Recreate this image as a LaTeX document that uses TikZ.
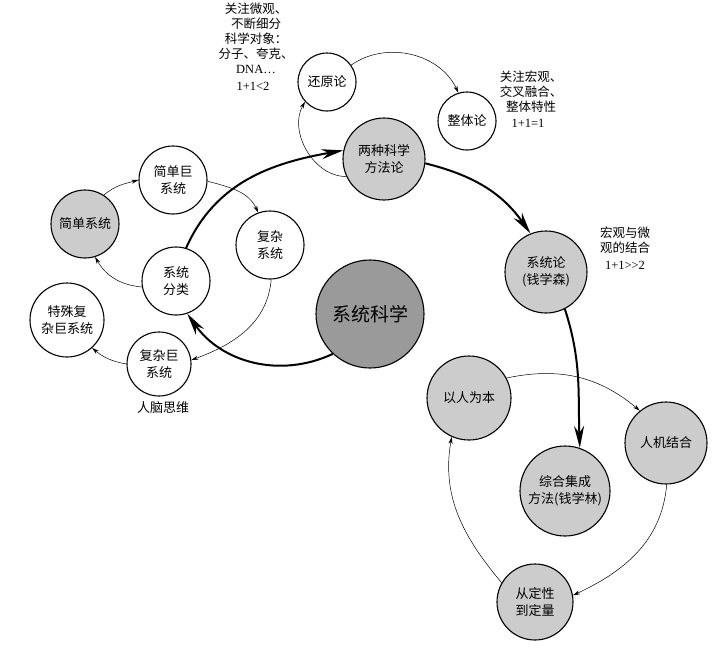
\documentclass[tikz,border=0pt]{standalone}
\usepackage{fontspec}
\setmainfont{Liberation Serif}
\newfontfamily\cjk{Noto Sans CJK SC}
\usetikzlibrary{arrows.meta}
\definecolor{slight}{HTML}{CCCCCC}
\definecolor{sdark}{HTML}{9A9A9A}
\tikzset{
  wcirc/.style={circle, draw=black, line width=1.1pt, fill=white, align=center,
                font=\cjk\fontsize{13}{16.5}\selectfont, inner sep=0pt},
  gcirc/.style={wcirc, fill=slight},
  bigarr/.style={line width=2pt, -{Stealth[length=22pt,width=10pt]}},
  smarr/.style={line width=0.5pt, -{Stealth[length=7pt,width=4pt]}},
  note/.style={align=center, font=\cjk\fontsize{12.5}{15}\selectfont, inner sep=0pt},
  eqn/.style={font=\fontsize{12.5}{15}\selectfont, inner sep=0pt},
}

\begin{document}
\begin{tikzpicture}[x=1pt, y=1pt]
  \useasboundingbox (0,0) rectangle (725,-656);

  % centre and the two methodologies
  \node[wcirc, fill=sdark, minimum size=108pt, font=\cjk\fontsize{19}{22}\selectfont] (xtkx) at (370,-314) {系统科学};
  \node[gcirc, minimum size=82pt] (lzff) at (384,-159) {两种科学\\方法论};
  \node[wcirc, minimum size=58pt] (hyl) at (327,-82) {还原论};
  \node[wcirc, minimum size=58pt] (ztl) at (467,-121) {整体论};
  \node[gcirc, minimum size=82pt] (xtl) at (546,-272) {系统论\\(钱学森)};

  % system classification
  \node[wcirc, minimum size=68pt] (xtfl) at (176,-281) {系统\\分类};
  \node[gcirc, minimum size=68pt] (jdxt) at (85,-224) {简单系统};
  \node[wcirc, minimum size=68pt] (jdjx) at (173,-180) {简单巨\\系统};
  \node[wcirc, minimum size=68pt] (fzxt) at (270,-245) {复杂\\系统};
  \node[wcirc, minimum size=64pt] (fzjx) at (159,-364) {复杂巨\\系统};
  \node[wcirc, minimum size=74pt] (tsfz) at (67,-320) {特殊复\\杂巨系统};

  % integrated method
  \node[gcirc, minimum size=90pt] (zhjc) at (565,-491) {综合集成\\方法(钱学林)};
  \node[gcirc, minimum size=84pt] (yrwb) at (469,-398) {以人为本};
  \node[gcirc, minimum size=82pt] (rjjh) at (666,-443) {人机结合};
  \node[gcirc, minimum size=76pt] (cdx) at (535,-602) {从定性\\到定量};

  % notes
  \node[note] (nwg) at (256,-38) {关注微观、\\不断细分\\科学对象：\\分子、夸克、\\{\rmfamily DNA…}};
  \node[eqn] (ewg) at (253,-86) {1+1<2};
  \node[note] (nhg) at (531,-92) {关注宏观、\\交叉融合、\\整体特性};
  \node[eqn] (ehg) at (528,-123) {1+1=1};
  \node[note] (njh) at (625,-240) {宏观与微\\观的结合};
  \node[eqn] (ejh) at (625,-265) {1+1{>}{>}2};
  \node[note, font=\cjk\fontsize{13}{15}\selectfont] (rnsw) at (163,-408) {人脑思维};

  % main flow
  \draw[bigarr] (xtfl.73) to[out=66, in=190] (lzff.168);
  \draw[bigarr] (lzff.-6) to[out=-14, in=125] (xtl.112);
  \draw[bigarr] (xtl.-63) to[out=-72, in=92] (zhjc.71);
  \draw[bigarr] (xtkx.227) to[out=205, in=-55] (xtfl.-71);

  % small cycles
  \draw[smarr] (lzff.205) to[out=180, in=240] (hyl.222);
  \draw[smarr] (hyl.35) to[out=35, in=115] (ztl.107);
  \draw[smarr] (jdxt.57) to[out=40, in=195] (jdjx.180);
  \draw[smarr] (jdjx.-2) to[out=-15, in=115] (fzxt.110);
  \draw[smarr] (fzxt.-88) to[out=-95, in=20] (fzjx.7);
  \draw[smarr] (xtfl.190) to[out=175, in=-60] (jdxt.-73);
  \draw[smarr] (fzjx.180) to[out=170, in=-40] (tsfz.-48);
  \draw[smarr] (yrwb.28) to[out=12, in=140] (rjjh.129);
  \draw[smarr] (rjjh.-89) to[out=-95, in=25] (cdx.10);
  \draw[smarr] (cdx.150) to[out=130, in=-100] (yrwb.-114);
\end{tikzpicture}
\end{document}
